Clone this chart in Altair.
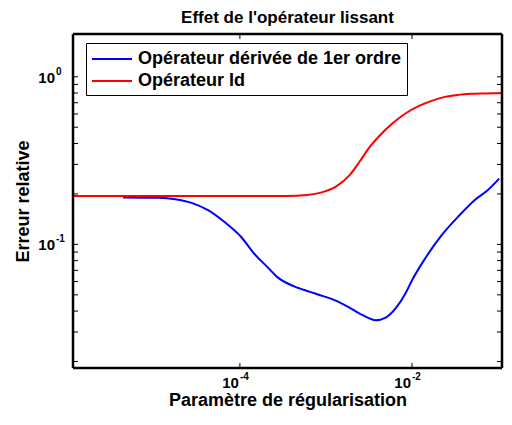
import altair as alt
import pandas as pd

# ---- data ----
blue_x = [4.40e-6, 1.14e-5, 1.77e-5, 2.74e-5, 4.27e-5, 6.62e-5, 1.03e-4, 1.46e-4,
          2.08e-4, 2.70e-4, 4.21e-4, 6.52e-4, 9.29e-4, 1.32e-3, 1.87e-3, 2.67e-3,
          3.79e-3, 4.94e-3, 6.44e-3, 8.38e-3, 1.00e-2, 1.42e-2, 2.21e-2, 3.42e-2,
          5.32e-2, 7.55e-2, 1.03e-1]
blue_y = [0.1905, 0.1895, 0.186, 0.177, 0.160, 0.136, 0.111, 0.0882,
          0.0734, 0.0640, 0.0563, 0.0521, 0.0491, 0.0460, 0.0420, 0.0378,
          0.0353, 0.0366, 0.0415, 0.0509, 0.0611, 0.0824, 0.1135, 0.146,
          0.1836, 0.2105, 0.247]

red_x = [1.15e-6, 1.0e-5, 1.0e-4, 3.52e-4, 5.97e-4, 8.49e-4, 1.32e-3, 1.87e-3,
         2.44e-3, 3.18e-3, 4.14e-3, 5.90e-3, 8.38e-3, 1.19e-2, 1.69e-2, 2.41e-2,
         3.42e-2, 4.88e-2, 6.93e-2, 9.84e-2, 1.11e-1]
red_y = [0.1946, 0.1946, 0.1946, 0.1946, 0.197, 0.203, 0.222, 0.258,
         0.310, 0.378, 0.442, 0.526, 0.604, 0.668, 0.718, 0.759,
         0.780, 0.791, 0.795, 0.798, 0.799]

series_names = ["Opérateur dérivée de 1er ordre", "Opérateur Id"]
series_colors = ["#0000ff", "#ff0000"]

x_domain = [1.15e-6, 0.111]
y_domain = [0.0183, 1.80]
x_major_ticks = [1e-4, 1e-2]
x_major_exps = ["-4", "-2"]
y_major_ticks = [0.1, 1.0]
y_major_exps = ["-1", "0"]
y_ticks = [0.02, 0.03, 0.04, 0.05, 0.06, 0.07, 0.08, 0.09,
           0.1, 0.2, 0.3, 0.4, 0.5, 0.6, 0.7, 0.8, 0.9, 1.0]

W, H = 429, 334
FONT = "Liberation Sans"

rows = []
for name, xs, ys in [(series_names[0], blue_x, blue_y), (series_names[1], red_x, red_y)]:
    for a, b in zip(xs, ys):
        rows.append({"serie": name, "x": a, "y": b})
df = pd.DataFrame(rows)
df_yt = pd.DataFrame({"v": y_ticks})
df_xt = pd.DataFrame({"v": x_major_ticks, "e": x_major_exps})
df_ym = pd.DataFrame({"v": y_major_ticks, "e": y_major_exps})
df_one = pd.DataFrame({"k": [0]})

xscale = alt.Scale(type="log", domain=x_domain, nice=False)
yscale = alt.Scale(type="log", domain=y_domain, nice=False)

x_axis = alt.Axis(ticks=False, grid=False, domain=False, labels=False, minExtent=0,
                  title="Paramètre de régularisation", titleFont=FONT,
                  titleFontSize=18, titleFontWeight="bold", titleColor="black",
                  titlePadding=23)
y_axis = alt.Axis(ticks=False, grid=False, domain=False, labels=False, minExtent=0,
                  title="Erreur relative", titleFont=FONT,
                  titleFontSize=18, titleFontWeight="bold", titleColor="black",
                  titlePadding=41)

lines = alt.Chart(df).mark_line(strokeWidth=2, interpolate="monotone", clip=True).encode(
    x=alt.X("x:Q", scale=xscale, axis=x_axis),
    y=alt.Y("y:Q", scale=yscale, axis=y_axis),
    color=alt.Color("serie:N",
                    scale=alt.Scale(domain=series_names, range=series_colors),
                    sort=series_names,
                    legend=alt.Legend(title=None, orient="none", legendX=13, legendY=9,
                                      strokeColor="black", fillColor="white",
                                      padding=5, symbolType="M-1,0H3", symbolSize=400,
                                      symbolStrokeWidth=2, labelFont=FONT,
                                      labelFontSize=18, labelFontWeight="bold",
                                      labelColor="black", labelLimit=500,
                                      labelOffset=25, rowPadding=2)),
)

# frame (box around the plot area)
side_left = alt.Chart(df_one).mark_rule(color="black", strokeWidth=2.5).encode(
    x=alt.value(0), y=alt.value(0), y2=alt.value(H))
side_right = alt.Chart(df_one).mark_rule(color="black", strokeWidth=2.5).encode(
    x=alt.value(W), y=alt.value(0), y2=alt.value(H))
side_top = alt.Chart(df_one).mark_rule(color="black", strokeWidth=2.5).encode(
    y=alt.value(0), x=alt.value(0), x2=alt.value(W))
side_bottom = alt.Chart(df_one).mark_rule(color="black", strokeWidth=2.5).encode(
    y=alt.value(H), x=alt.value(0), x2=alt.value(W))

yt_left = alt.Chart(df_yt).mark_rule(color="black", strokeWidth=1).encode(
    y=alt.Y("v:Q", scale=yscale), x=alt.value(0), x2=alt.value(5))
yt_right = alt.Chart(df_yt).mark_rule(color="black", strokeWidth=1).encode(
    y=alt.Y("v:Q", scale=yscale), x=alt.value(W - 5), x2=alt.value(W))
xt_bottom = alt.Chart(df_xt).mark_rule(color="black", strokeWidth=1).encode(
    x=alt.X("v:Q", scale=xscale), y=alt.value(H - 5), y2=alt.value(H))
xt_top = alt.Chart(df_xt).mark_rule(color="black", strokeWidth=1).encode(
    x=alt.X("v:Q", scale=xscale), y=alt.value(0), y2=alt.value(5))

# tick labels "10" with superscript exponents
x_base = alt.Chart(df_xt).mark_text(font=FONT, fontSize=15, fontWeight="bold",
                                    color="black", align="right", baseline="middle",
                                    dx=-1).encode(
    x=alt.X("v:Q", scale=xscale), y=alt.value(H + 15), text=alt.value("10"))
x_exp = alt.Chart(df_xt).mark_text(font=FONT, fontSize=10, fontWeight="bold",
                                   color="black", align="left", baseline="middle",
                                   dx=0).encode(
    x=alt.X("v:Q", scale=xscale), y=alt.value(H + 9), text="e:N")
y_base = alt.Chart(df_ym).mark_text(font=FONT, fontSize=15, fontWeight="bold",
                                    color="black", align="right", baseline="middle",
                                    dy=1).encode(
    y=alt.Y("v:Q", scale=yscale), x=alt.value(-18), text=alt.value("10"))
y_exp = alt.Chart(df_ym).mark_text(font=FONT, fontSize=10, fontWeight="bold",
                                   color="black", align="left", baseline="middle",
                                   dx=1, dy=-5).encode(
    y=alt.Y("v:Q", scale=yscale), x=alt.value(-18), text="e:N")

chart = alt.layer(yt_left, yt_right, xt_bottom, xt_top, x_base, x_exp, y_base, y_exp,
                  lines, side_left, side_right, side_top, side_bottom).properties(
    width=W, height=H,
    background="white",
    title=alt.Title("Effet de l'opérateur lissant", font=FONT, fontSize=17,
                    fontWeight="bold", color="black", offset=6, frame="group",
                    anchor="middle"),
    autosize=alt.AutoSizeParams(type="none"),
    padding={"left": 65, "top": 26, "right": 2, "bottom": 43},
).configure_view(strokeWidth=0)

chart.save("out.html", embed_options={"renderer": "svg", "actions": False})
